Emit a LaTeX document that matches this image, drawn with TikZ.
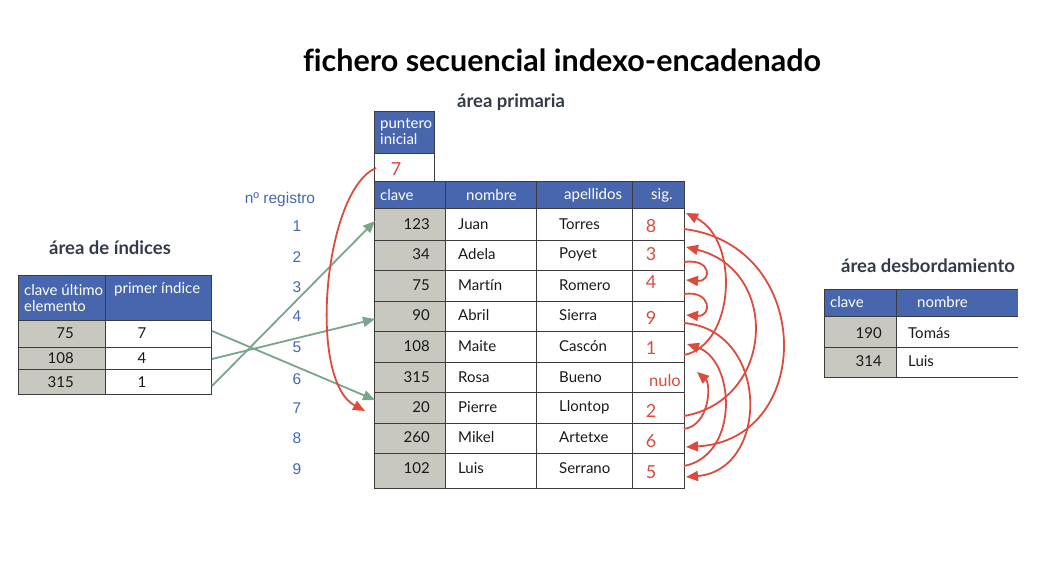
\documentclass[tikz,border=0pt]{standalone}
\usepackage{fontspec}
\setmainfont{Lato}[Ligatures=NoCommon]
\newfontfamily\arialfont{Liberation Sans}
\usetikzlibrary{arrows.meta}
\definecolor{hdrblue}{RGB}{71,102,173}
\definecolor{cellgray}{RGB}{200,200,192}
\definecolor{txtdark}{RGB}{25,25,25}
\definecolor{headgray}{RGB}{51,58,72}
\definecolor{redc}{RGB}{222,74,60}
\definecolor{greenc}{RGB}{122,165,138}
\definecolor{regblue}{RGB}{68,104,178}
\definecolor{gridc}{RGB}{60,60,60}
\begin{document}
\begin{tikzpicture}[x=1pt,y=-1pt,
  txt/.style={inner sep=0pt, text=txtdark, font=\fontsize{15}{17}\selectfont},
  ltxt/.style={txt, anchor=west},
  rtxt/.style={txt, anchor=east},
  htxt/.style={inner sep=0pt, anchor=west, text=white, font=\fontsize{15}{16}\selectfont, align=left},
  sigtxt/.style={inner sep=0pt, text=redc, font=\fontsize{18}{20}\selectfont},
  regtxt/.style={inner sep=0pt, text=regblue, font=\arialfont\fontsize{15.5}{17}\selectfont},
  areatxt/.style={inner sep=0pt, text=headgray, font=\bfseries\fontsize{18.5}{20}\selectfont},
  redarrow/.style={draw=redc, line width=1.8pt, -{Triangle[length=12pt,width=10pt]}},
  greenarrow/.style={draw=greenc, line width=1.8pt, -{Triangle[length=12pt,width=10pt]}},
  gridline/.style={draw=gridc, line width=0.9pt}]
\useasboundingbox (0,0) rectangle (1044,572);

% title
\node[inner sep=0pt, text=black, font=\bfseries\fontsize{30.5}{34}\selectfont] (title) at (562,60) {fichero secuencial indexo-encadenado};

% ---------- area de indices ----------
\node[areatxt] (lblidx) at (110,248) {área de índices};
\fill[hdrblue] (18,275) rectangle (211,320);
\fill[cellgray] (18,320) rectangle (105,394);
\draw[gridline] (18,275) rectangle (211,394);
\draw[gridline] (105,275) -- (105,394);
\foreach \yy in {320,347,369} \draw[gridline] (18,\yy) -- (211,\yy);
\node[htxt] (ih1) at (24,298) {clave último\\elemento};
\node[htxt] (ih2) at (114,289) {primer índice};
\node[rtxt] (ik1) at (74,333) {75};
\node[rtxt] (ik2) at (74,358) {108};
\node[rtxt] (ik3) at (74,382) {315};
\node[txt] (ip1) at (142,333) {7};
\node[txt] (ip2) at (142,358) {4};
\node[txt] (ip3) at (142,382) {1};

% ---------- n registro ----------
\node[regtxt] (nreg) at (280,199) {nº registro};
\foreach \n/\yy in {1/226,2/257,3/287,4/316,5/347,6/379,7/408,8/438,9/469}
  \node[regtxt] (reg\n) at (297,\yy) {\n};

% ---------- area primaria ----------
\node[areatxt] (lblprim) at (511,102) {área primaria};
\fill[hdrblue] (374,111) rectangle (434,153);
\draw[gridline] (374,111) rectangle (434,181);
\draw[gridline] (374,153) -- (434,153);
\node[htxt] (ph) at (380,132) {puntero\\inicial};
\node[sigtxt] (p7) at (396,169) {7};

\fill[hdrblue] (374,181) rectangle (684,208);
\fill[cellgray] (374,208) rectangle (445,488);
\draw[gridline] (374,181) rectangle (684,488);
\foreach \xx in {445,536,632} \draw[gridline] (\xx,181) -- (\xx,488);
\foreach \yy in {208,240,270,301,331,362,392,423,453} \draw[gridline] (374,\yy) -- (684,\yy);
\node[htxt] (hc) at (380,195) {clave};
\node[htxt] (hn) at (466,195) {nombre};
\node[htxt] (ha) at (564,195) {apellidos};
\node[htxt] (hs) at (651,195) {sig.};

\foreach \i/\yy/\k/\nm/\ap in {1/224/123/Juan/Torres, 2/254/34/Adela/Poyet, 3/285/75/Martín/Romero,
  4/315/90/Abril/Sierra, 5/346/108/Maite/Cascón, 6/377/315/Rosa/Bueno, 7/407/20/Pierre/Llontop,
  8/437/260/Mikel/Artetxe, 9/468/102/Luis/Serrano}{
  \node[rtxt] (k\i) at (430,\yy) {\k};
  \node[ltxt] (n\i) at (458,\yy) {\nm};
  \node[ltxt] (a\i) at (559,\yy) {\ap};
}
\foreach \i/\yy/\s in {1/226/8, 2/254/3, 3/282/4, 4/318/9, 5/348/1, 7/411/2, 8/441/6, 9/472/5}
  \node[sigtxt] (s\i) at (651,\yy) {\s};
\node[sigtxt, font=\fontsize{16.5}{18}\selectfont] (s6) at (665,380) {nulo};

% ---------- area desbordamiento ----------
\node[areatxt] (lbldes) at (928,266) {área desbordamiento};
\fill[hdrblue] (824,289) rectangle (1018,316);
\fill[cellgray] (824,316) rectangle (896,377);
\draw[gridline] (824,289) -- (824,377);
\draw[gridline] (896,289) -- (896,377);
\foreach \yy in {289,316,347,377} \draw[gridline] (824,\yy) -- (1018,\yy);
\node[htxt] (dh1) at (830,302) {clave};
\node[htxt] (dh2) at (917,302) {nombre};
\node[rtxt] (dk1) at (882,333) {190};
\node[rtxt] (dk2) at (882,361) {314};
\node[ltxt] (dn1) at (908,333) {Tomás};
\node[ltxt] (dn2) at (908,361) {Luis};

% ---------- connector end points ----------
\coordinate (gi1) at (212,331);
\coordinate (gi2) at (212,359);
\coordinate (gi3) at (212,386);
\coordinate (gt7) at (375,400);
\coordinate (gt4) at (375,319);
\coordinate (gt1) at (375,221);

\coordinate (pstart) at (376,168);
\coordinate (pend) at (365,411);

\coordinate (out1) at (684,229);
\coordinate (out2) at (684,262);
\coordinate (out3) at (684,294);
\coordinate (out4) at (684,323);
\coordinate (out5) at (684,355);
\coordinate (out7) at (684,416);
\coordinate (out8) at (684,429);
\coordinate (out9) at (684,466);
\coordinate (in1) at (686,213);
\coordinate (in2) at (686,247);
\coordinate (in3) at (686,280);
\coordinate (in4) at (686,315);
\coordinate (in5) at (687,344);
\coordinate (in6) at (697,372);
\coordinate (in8) at (686,447);
\coordinate (in9) at (686,477);

% green index arrows
\draw[greenarrow] (gi1) -- (gt7);
\draw[greenarrow] (gi2) -- (gt4);
\draw[greenarrow] (gi3) -- (gt1);

% red pointer from puntero inicial
\draw[redarrow] (pstart) .. controls +(-52,22) and +(-58,-31) .. (pend);

% red chain arrows
\draw[redarrow] (out7) .. controls +(91,-16) and +(94,23) .. (in2);
\draw[redarrow] (out2) .. controls +(28,-4) and +(26,2) .. (in3);
\draw[redarrow] (out3) .. controls +(28,-4) and +(26,2) .. (in4);
\draw[redarrow] (out4) .. controls +(86,7) and +(84,-7) .. (in9);
\draw[redarrow] (out9) .. controls +(56,-11) and +(48,16) .. (in5);
\draw[redarrow] (out5) .. controls +(51,-10) and +(54,27) .. (in1);
\draw[redarrow] (out1) .. controls +(131,16) and +(129,-7) .. (in8);
\draw[redarrow] (out8) .. controls +(26,-4) and +(14,12) .. (in6);
\end{tikzpicture}
\end{document}
